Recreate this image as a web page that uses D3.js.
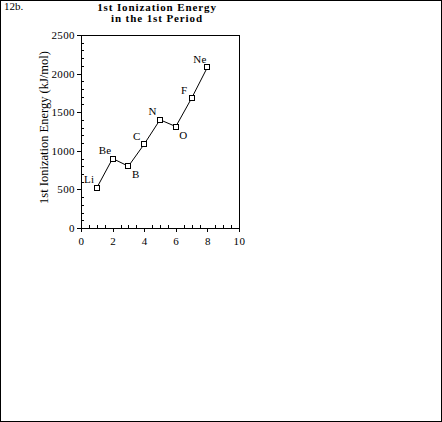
<!DOCTYPE html>
<html><head><meta charset="utf-8">
<script src="https://cdn.jsdelivr.net/npm/d3@7"></script>
<style>body{margin:0;background:#fff}svg{display:block}text{font-family:"Liberation Serif","Times New Roman",serif;fill:#000}</style>
</head><body><div id="chart"></div>
<script>
const elements = ["Li","Be","B","C","N","O","F","Ne"];
const atomicNumberIndex = [1,2,3,4,5,6,7,8];
const ionizationEnergy = [520,900,800,1086,1402,1314,1681,2081];
const labelSide = ["above","above","below","above","above","below","above","above"];
const xTicks = [0,2,4,6,8,10];
const yTicks = [0,500,1000,1500,2000,2500];
const titleLines = ["1st Ionization Energy","in the 1st Period"];
const yLabel = "1st Ionization Energy (kJ/mol)";
const panelLabel = "12b.";

const W=442,H=422;
const svg=d3.select("#chart").append("svg").attr("width",W).attr("height",H);
svg.append("rect").attr("x",0.5).attr("y",0.5).attr("width",W-1).attr("height",H-1).attr("fill","#fff").attr("stroke","#000");

const L=81,R=239,T=35,B=228;
const x=d3.scaleLinear().domain([0,10]).range([L,R]);
const y=d3.scaleLinear().domain([0,2500]).range([B,T]);

svg.append("text").attr("x",4).attr("y",10).attr("font-size",11).text(panelLabel);
titleLines.forEach((t,i)=>svg.append("text").attr("x",157).attr("y",11+i*11).attr("text-anchor","middle").attr("font-size",11).attr("font-weight","bold").attr("letter-spacing","0.9").text(t));

// frame
svg.append("path").attr("d",`M${L},${B+0.5}H${R+0.5}V${T+0.5}H${L+0.5}V${B}`).attr("fill","none").attr("stroke","#000").attr("shape-rendering","crispEdges");

// axes
const xa=svg.append("g").attr("transform",`translate(0,${B})`).call(d3.axisBottom(x).tickValues(xTicks).tickSize(4).tickPadding(5).tickFormat(d3.format("d")));
const ya=svg.append("g").attr("transform",`translate(${L},0)`).call(d3.axisLeft(y).tickValues(yTicks).tickSize(4).tickPadding(2).tickFormat(d3.format("d")));
[xa,ya].forEach(a=>{a.select(".domain").remove();a.selectAll("line").attr("shape-rendering","crispEdges");a.selectAll("text").attr("font-size",11).attr("letter-spacing","0.4").attr("font-family","Liberation Serif, serif");});
// minor ticks inward
const xMinor=d3.range(0.5,10,0.5).filter(v=>v%2!==0);
const yMinor=d3.range(100,2500,100).filter(v=>v%500!==0);
svg.append("g").attr("transform",`translate(0,${B})`).call(d3.axisTop(x).tickValues(xMinor).tickSize(3).tickFormat("")).call(g=>g.select(".domain").remove()).selectAll("line").attr("shape-rendering","crispEdges");
svg.append("g").attr("transform",`translate(${L},0)`).call(d3.axisRight(y).tickValues(yMinor).tickSize(3).tickFormat("")).call(g=>g.select(".domain").remove()).selectAll("line").attr("shape-rendering","crispEdges");

svg.append("text").attr("transform",`translate(48,${(T+B)/2-4}) rotate(-90)`).attr("text-anchor","middle").attr("font-size",12.5).text(yLabel);

const data=elements.map((e,i)=>({e,n:atomicNumberIndex[i],v:ionizationEnergy[i],s:labelSide[i]}));
svg.append("path").datum(data).attr("d",d3.line().x(d=>x(d.n)).y(d=>y(d.v))).attr("fill","none").attr("stroke","#000");
svg.selectAll("rect.m").data(data).enter().append("rect").attr("class","m")
 .attr("x",d=>Math.round(x(d.n))-2.5).attr("y",d=>Math.round(y(d.v))-2.5).attr("width",5).attr("height",5).attr("fill","#fff").attr("stroke","#000");
svg.selectAll("text.l").data(data).enter().append("text").attr("class","l").attr("font-size",11).attr("letter-spacing","0.3").attr("text-anchor","middle")
 .attr("x",d=>x(d.n)+(d.s==="above"?-7.5:7.5)).attr("y",d=>y(d.v)+(d.s==="above"?-4.5:12)).text(d=>d.e);
</script></body></html>
